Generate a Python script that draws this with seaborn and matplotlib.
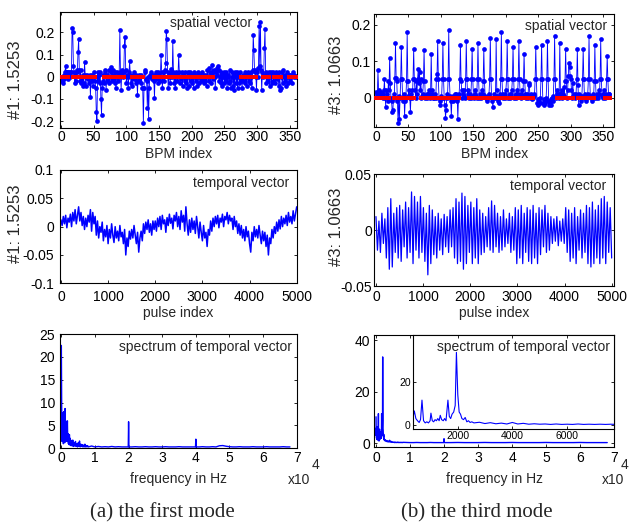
import numpy as np
import matplotlib
matplotlib.use('Agg')
import matplotlib.pyplot as plt
import seaborn as sns

# ---------------- data ----------------
# spatial vectors (360 BPMs)
sv1 = [0.00, -0.02, -0.01, -0.03, -0.01, 0.01, 0.02, 0.05, 0.02, 0.02,
       -0.01, 0.02, 0.01, 0.02, 0.0, 0.02, 0.02, 0.22, 0.20, 0.05,
       0.02, -0.03, 0.01, -0.02, 0.03, 0.02, 0.11, 0.17, 0.03, -0.02,
       0.03, -0.03, 0.0, -0.04, 0.01, -0.03, 0.065, 0.01, -0.04, 0.0,
       0.01, -0.01, 0.0, -0.03, 0.01, -0.09, 0.0, -0.02, 0.01, -0.04,
       0.02, 0.00, -0.02, -0.05, -0.16, -0.20, 0.02, -0.02, 0.01, -0.03,
       0.02, -0.10, -0.17, -0.05, -0.02, 0.01, -0.03, 0.02, 0.03, -0.06,
       0.0, 0.01, -0.02, 0.03, -0.03, 0.0, 0.045, 0.02, -0.02, 0.03,
       -0.01, 0.01, -0.03, 0.02, -0.05, 0.0, 0.02, -0.02, 0.0, 0.01,
       0.21, 0.02, -0.06, 0.03, 0.01, 0.0, 0.02, 0.14, 0.18, 0.03,
       -0.03, 0.01, 0.0, -0.05, 0.02, 0.07, 0.01, -0.03, 0.0, -0.04,
       0.01, -0.01, 0.02, 0.0, -0.03, 0.01, -0.02, -0.08, 0.0, 0.01,
       -0.02, 0.0, -0.03, 0.01, -0.05, -0.05, -0.21, -0.05, 0.02, 0.03,
       -0.01, -0.02, -0.14, 0.0, -0.19, -0.05, 0.01, 0.0, 0.02, -0.01,
       0.01, 0.0, -0.02, -0.095, 0.01, 0.02, -0.01, 0.0, 0.02, -0.03,
       0.01, -0.02, 0.0, 0.10, 0.02, -0.05, 0.0, 0.02, -0.02, 0.03,
       0.06, 0.205, 0.17, 0.02, -0.05, 0.01, 0.0, -0.03, 0.02, 0.035,
       0.0, 0.16, 0.02, -0.03, 0.01, -0.05, 0.02, 0.0, -0.02, 0.01,
       0.10, 0.02, -0.03, 0.0, -0.01, 0.02, -0.04, 0.01, 0.0, -0.02,
       0.02, -0.03, 0.0, -0.05, 0.01, 0.02, -0.04, 0.0, 0.02, -0.02,
       0.01, -0.03, 0.0, -0.05, 0.02, 0.0, -0.02, 0.01, -0.04, 0.0,
       0.02, -0.03, 0.01, 0.0, -0.02, 0.02, -0.01, 0.0, -0.03, 0.01,
       0.0, -0.02, 0.01, -0.04, 0.03, 0.0, -0.02, 0.04, 0.02, -0.03,
       0.01, 0.055, 0.02, -0.01, 0.03, 0.0, -0.05, 0.02, 0.04, 0.01,
       0.05, 0.03, -0.02, 0.0, 0.02, -0.03, 0.01, -0.04, 0.0, 0.02,
       -0.03, 0.01, -0.02, 0.02, -0.05, 0.0, 0.01, -0.03, 0.03, -0.02,
       -0.05, 0.0, 0.02, -0.04, 0.01, -0.06, 0.02, 0.0, -0.03, 0.02,
       -0.05, 0.01, 0.0, -0.03, 0.02, -0.02, 0.0, -0.05, 0.01, -0.02,
       0.0, 0.02, -0.03, 0.01, -0.04, 0.0, 0.02, -0.02, 0.01, -0.03,
       0.02, 0.0, -0.05, 0.03, 0.19, 0.12, 0.03, 0.02, 0.0, -0.06,
       0.02, 0.0, 0.04, 0.23, 0.05, 0.245, 0.03, -0.06, 0.02, 0.0,
       0.01, 0.13, 0.215, 0.02, -0.03, 0.01, -0.02, 0.0, 0.02, -0.04,
       0.0, 0.02, -0.03, 0.01, 0.02, -0.02, 0.0, 0.01, -0.03, 0.02,
       -0.01, 0.0, 0.01, -0.04, 0.02, -0.06, -0.05, 0.0, 0.02, -0.03,
       0.03, 0.0, -0.02, 0.01, -0.04, 0.0, 0.02, -0.03, 0.01, 0.0,
       -0.02, 0.01, 0.0, -0.03, 0.01, 0.02, 0.0, 0.01, 0.005, 0.0]

sv3 = [0.015, 0.01, 0.005, 0.075, 0.02, 0.005, 0.01, 0.015, 0.01, 0.005,
       0.01, 0.0, 0.02, 0.05, 0.0, -0.025, 0.02, 0.01, -0.01, 0.045,
       0.02, 0.11, 0.04, 0.0, -0.01, -0.04, -0.035, 0.01, 0.0, 0.055,
       0.15, 0.055, 0.045, -0.01, -0.07, 0.005, -0.06, 0.0, 0.05, 0.14,
       0.05, 0.0, -0.01, 0.01, -0.05, -0.01, 0.0, 0.045, 0.18, 0.045,
       0.005, 0.02, 0.0, -0.04, 0.01, 0.02, 0.0, 0.05, 0.135, 0.05,
       0.02, 0.0, 0.045, 0.01, 0.05, 0.08, 0.04, 0.07, 0.02, 0.05,
       0.0, 0.005, 0.01, 0.045, 0.13, 0.045, 0.0, 0.005, 0.01, 0.0,
       0.01, 0.02, 0.005, 0.0, 0.01, 0.12, 0.02, 0.0, 0.01, 0.005,
       0.0, 0.01, 0.0, 0.05, 0.065, 0.155, 0.05, 0.0, -0.01, -0.02,
       0.005, 0.0, 0.05, 0.15, 0.05, 0.0, -0.02, -0.055, -0.035, 0.01,
       0.0, 0.05, 0.185, 0.05, 0.005, -0.01, -0.05, 0.0, -0.01, 0.005,
       0.0, 0.01, -0.005, 0.01, -0.01, 0.0, -0.06, 0.0, 0.01, 0.05,
       0.145, 0.045, 0.02, 0.0, 0.01, 0.02, 0.005, 0.0, 0.05, 0.155,
       0.05, 0.01, 0.02, 0.0, 0.005, 0.01, 0.0, 0.05, 0.135, 0.05,
       0.005, 0.0, 0.01, 0.02, 0.005, 0.0, 0.05, 0.15, 0.05, 0.0,
       0.01, 0.005, 0.0, 0.02, 0.01, 0.045, 0.135, 0.045, 0.005, 0.0,
       0.0, -0.01, 0.005, 0.0, 0.01, 0.05, 0.165, 0.05, 0.0, -0.01,
       -0.025, 0.0, 0.01, 0.005, 0.0, 0.16, 0.02, 0.005, -0.01, -0.015,
       0.0, 0.01, 0.05, 0.18, 0.05, 0.0, 0.01, 0.005, 0.0, 0.01,
       0.02, 0.05, 0.155, 0.05, 0.0, 0.005, 0.01, 0.0, 0.01, 0.02,
       0.05, 0.14, 0.05, 0.0, 0.005, 0.01, 0.0, 0.02, 0.01, 0.05,
       0.155, 0.05, 0.005, 0.01, 0.0, 0.02, 0.005, 0.045, 0.12, 0.045,
       0.01, 0.0, 0.005, 0.01, 0.0, 0.04, 0.035, 0.005, 0.0, 0.01,
       -0.005, 0.005, 0.0, 0.01, 0.005, 0.05, 0.14, 0.05, -0.015, -0.005,
       -0.02, -0.01, -0.015, 0.0, 0.05, 0.145, 0.05, -0.015, -0.02, -0.005,
       -0.015, -0.01, 0.0, 0.05, 0.155, 0.05, -0.02, -0.01, -0.015, -0.005,
       -0.02, 0.0, -0.01, 0.005, 0.05, 0.17, 0.05, 0.0, 0.02, 0.01,
       0.005, 0.0, 0.01, 0.15, 0.01, 0.005, 0.02, 0.0, 0.01, 0.03,
       0.005, 0.045, 0.135, 0.045, 0.0, 0.02, 0.06, 0.095, 0.085, 0.06,
       0.05, 0.02, 0.0, 0.04, 0.005, 0.01, 0.0, 0.005, 0.01, 0.05,
       0.135, 0.035, -0.02, 0.01, 0.005, 0.0, -0.01, 0.005, 0.05, 0.135,
       0.05, 0.0, 0.01, -0.01, 0.005, 0.0, 0.01, 0.05, 0.17, 0.05,
       0.005, 0.0, -0.01, 0.005, 0.01, 0.0, 0.045, 0.145, 0.045, 0.0,
       0.01, 0.005, 0.0, 0.02, 0.01, 0.05, 0.16, 0.05, 0.005, 0.0,
       0.01, 0.02, 0.005, 0.0, 0.01, 0.05, 0.115, 0.05, 0.01, 0.01]

# BPM index ranges drawn as red markers on the zero line
red1_ranges = [(0, 11), (18, 34), (40, 52), (66, 96), (108, 126),
               (143, 233), (276, 299), (309, 318), (326, 337), (349, 360)]
red3_ranges = [(0, 20), (27, 37), (40, 58), (70, 101), (107, 128),
               (143, 194), (198, 219), (225, 242), (278, 304), (311, 321),
               (326, 335), (353, 360)]

# temporal vectors
tv1 = [0.012, 0.002, 0.018, 0.005, 0.02, -0.002, 0.015, 0.008, 0.022, 0.0,
       0.025, 0.01, 0.03, 0.005, 0.02, 0.035, 0.01, 0.025, 0.002, 0.018,
       -0.005, 0.015, 0.0, 0.02, 0.008, 0.03, -0.008, 0.025, 0.005, 0.018,
       -0.015, 0.01, -0.02, 0.0, -0.01, 0.008, -0.025, -0.005, -0.018, 0.002,
       -0.03, -0.005, -0.02, 0.005, -0.015, -0.028, 0.0, -0.02, -0.008, -0.025,
       0.002, -0.018, -0.01, -0.03, -0.005, -0.05, -0.02, -0.035, -0.008, -0.022,
       -0.005, -0.02, 0.002, -0.015, -0.03, -0.01, -0.045, -0.02, -0.008, -0.025,
       0.005, -0.012, 0.008, -0.005, 0.012, -0.01, 0.005, -0.015, 0.01, -0.005,
       0.01, -0.008, 0.015, 0.0, 0.018, -0.005, 0.02, 0.005, 0.012, -0.01,
       0.016, 0.002, 0.022, 0.006, 0.015, -0.004, 0.02, 0.01, 0.025, 0.0,
       0.018, -0.005, 0.028, 0.008, 0.02, -0.008, 0.035, 0.005, -0.015, 0.012,
       -0.01, 0.015, -0.005, 0.01, -0.012, 0.018, 0.0, -0.02, 0.008, -0.01,
       -0.025, 0.002, -0.02, -0.01, -0.035, -0.005, -0.015, 0.01, -0.008, 0.015,
       0.0, 0.018, 0.005, 0.02, -0.002, 0.015, 0.008, 0.022, 0.0, 0.018,
       0.012, 0.025, 0.005, 0.02, 0.01, 0.015, -0.005, 0.018, 0.0, 0.01,
       -0.012, 0.005, -0.015, 0.002, -0.02, -0.005, -0.025, 0.0, -0.018, -0.008,
       -0.03, -0.045, -0.01, -0.025, 0.0, -0.018, -0.005, -0.02, 0.002, -0.015,
       -0.03, -0.008, -0.025, -0.01, -0.035, -0.015, -0.05, -0.02, -0.03, -0.005,
       -0.02, 0.0, -0.012, 0.008, -0.008, 0.012, -0.004, 0.018, 0.0, 0.015,
       0.005, 0.02, 0.002, 0.025, 0.008, 0.018, 0.005, 0.028, 0.01, 0.022,
       0.035]

tv3 = [0.012, -0.018, 0.008, -0.02, 0.015, -0.012, 0.01, -0.025, 0.02, -0.035,
       0.028, -0.033, 0.015, -0.02, 0.02, -0.025, 0.022, -0.028, 0.018, -0.015,
       0.025, -0.025, 0.02, -0.02, 0.034, -0.03, 0.03, -0.018, 0.025, -0.025,
       0.03, -0.02, 0.02, -0.028, 0.015, -0.04, 0.022, -0.03, 0.018, -0.022,
       0.012, -0.025, 0.015, -0.018, 0.01, -0.022, 0.014, -0.015, 0.012, -0.02,
       0.018, -0.015, 0.02, -0.025, 0.028, -0.03, 0.025, -0.028, 0.033, -0.035,
       0.03, -0.03, 0.022, -0.02, 0.025, -0.03, 0.02, -0.025, 0.028, -0.03,
       0.018, -0.022, 0.015, -0.02, 0.012, -0.015, 0.02, -0.018, 0.026, -0.02,
       0.022, -0.015, 0.015, -0.02, 0.012, -0.018, 0.018, -0.015, 0.01, -0.012,
       0.015, -0.02, 0.012, -0.018, 0.02, -0.03, 0.018, -0.025, 0.022, -0.03,
       0.015, -0.02, 0.02, -0.028, 0.018, -0.03, 0.022, -0.025, 0.015, -0.03,
       0.02, -0.022, 0.018, -0.015, 0.022, -0.02, 0.015, -0.018, 0.012, -0.012,
       0.01, -0.01, 0.012, -0.014, 0.008, -0.01, 0.01, -0.012, 0.02, -0.02,
       0.018, -0.028, 0.015, -0.025, 0.02, -0.03, 0.012, -0.018, 0.018, -0.025,
       0.015, -0.02, 0.022, -0.03, 0.02, -0.033, 0.025, -0.03, 0.018, -0.025,
       0.022, -0.03, 0.028, -0.025, 0.03, -0.03, 0.025, -0.02, 0.02, -0.025]

# spectra (frequency in Hz, amplitude)
sp1_freq = (list(range(0, 3001, 100)) + list(range(3200, 8001, 200))
            + list(range(9000, 19001, 1000)) + [19900, 20000, 20100]
            + list(range(21000, 39001, 1000)) + [39900, 40000, 40100]
            + list(range(41000, 68001, 1000)))
sp1_amp = ([22.5, 8.5, 1.5, 7.8, 2.0, 6.5, 1.0, 8.0, 2.5, 5.5, 1.2, 8.7, 3.0,
            6.0, 1.5, 4.5, 2.0, 3.5, 6.0, 1.5, 3.2, 1.0, 2.5, 0.8, 3.0, 1.2,
            2.2, 0.6, 1.8, 0.8, 1.5]
           + [0.5, 1.8, 0.4, 1.2, 0.5, 1.5, 0.4, 1.0, 0.3, 1.2, 0.4, 1.6, 0.3,
              0.9, 0.4, 0.8, 0.3, 0.7, 0.3, 0.9, 0.3, 0.6, 0.3, 0.6, 0.3]
           + [0.5, 0.3, 0.4, 0.3, 0.35, 0.3, 0.4, 0.3, 0.35, 0.3, 0.3]
           + [0.3, 5.8, 0.3]
           + [0.3, 0.35, 0.3, 0.3, 0.35, 0.3, 0.3, 0.35, 0.3, 0.3, 0.35, 0.3,
              0.3, 0.3, 0.35, 0.3, 0.3, 0.3, 0.3]
           + [0.3, 2.0, 0.3]
           + [0.3, 0.35, 0.3, 0.3, 0.35, 0.3, 0.55, 0.6, 0.45, 0.35, 0.3, 0.3,
              0.35, 0.3, 0.3, 0.3, 0.35, 0.3, 0.3, 0.3, 0.35, 0.3, 0.3, 0.3,
              0.3, 0.35, 0.3, 0.3])

sp3_freq = ([0, 50, 100, 150, 200, 250, 300, 350, 424, 480, 540, 600, 650,
             703, 760, 820, 880, 940, 1000, 1030, 1080, 1130, 1180, 1230,
             1280, 1330, 1370, 1420, 1480, 1530, 1580, 1650, 1700, 1750,
             1800, 1860, 1915, 1960, 2010, 2060, 2110, 2160, 2220, 2280,
             2340, 2400, 2460, 2520]
            + list(range(2600, 8001, 200)) + list(range(9000, 19001, 1000))
            + [19900, 20000, 20100] + list(range(22000, 68001, 2000)))
sp3_amp = ([10.3, 3.0, 6.0, 2.0, 4.0, 1.5, 3.0, 2.0, 6.5, 3.0, 2.0, 1.2, 2.5,
            11.5, 2.0, 1.0, 1.5, 1.0, 2.0, 5.5, 2.0, 1.5, 2.5, 2.0, 3.0, 2.0,
            4.5, 2.5, 2.0, 3.0, 2.0, 11.5, 4.0, 3.0, 5.0, 6.0, 9.0, 33.5,
            14.0, 6.0, 5.0, 3.0, 2.5, 3.5, 1.5, 2.0, 1.2, 1.5]
           + [1.0, 1.3, 0.7, 1.1, 0.6, 0.9, 0.5, 1.2, 0.5, 0.8, 0.4, 0.6, 0.4,
              0.5, 0.3, 0.5, 0.3, 0.4, 0.3, 0.5, 0.3, 0.4, 0.3, 0.4, 0.3, 0.4,
              0.3, 0.4]
           + [0.35, 0.3, 0.3, 0.35, 0.3, 0.3, 0.3, 0.35, 0.3, 0.3, 0.3]
           + [0.3, 1.8, 0.3]
           + [0.3, 0.35, 0.3, 0.3, 0.3, 0.35, 0.3, 0.3, 0.3, 0.35, 0.3, 0.3,
              0.3, 0.3, 0.35, 0.3, 0.3, 0.3, 0.3, 0.35, 0.3, 0.3, 0.3, 0.3])

ylabel1 = '#1: 1.5253'
ylabel3 = '#3: 1.0663'

# ---------------- style ----------------
sns.set_style('ticks', {'xtick.direction': 'in', 'ytick.direction': 'in'})
plt.rcParams['font.family'] = ['Liberation Sans', 'DejaVu Sans']
plt.rcParams['axes.unicode_minus'] = False
plt.rcParams['xtick.top'] = True
plt.rcParams['ytick.right'] = True
plt.rcParams['axes.linewidth'] = 0.8
plt.rcParams['axes.edgecolor'] = 'black'

FS = 10
fig = plt.figure(figsize=(6.29, 5.25), dpi=100)


def frame(ax, xpad, ypad):
    ax.tick_params(axis='both', which='both', direction='in', length=2.5,
                   width=0.6, labelsize=FS, colors='black',
                   top=True, right=True)
    ax.tick_params(axis='x', pad=xpad)
    ax.tick_params(axis='y', pad=ypad)
    for s in ax.spines.values():
        s.set_visible(True)
        s.set_color('black')
        s.set_linewidth(0.8)


def spatial(ax, values, ranges):
    idx = np.arange(len(values))
    sns.lineplot(x=idx, y=values, ax=ax, color='blue', linewidth=0.6,
                 marker='o', markersize=3.4, markeredgewidth=0,
                 estimator=None)
    red_idx = [i for a, b in ranges for i in range(a, b + 1)]
    sns.scatterplot(x=red_idx, y=[0.0] * len(red_idx), ax=ax, color='red',
                    marker='s', s=6, linewidth=0, zorder=5)


# ---- top left: spatial vector, mode 1
ax1 = fig.add_axes([0.0954, 0.7568, 0.3763, 0.2198])
spatial(ax1, sv1, red1_ranges)
ax1.set_xlim(-1.5, 360.5)
ax1.set_ylim(-0.229, 0.29)
ax1.set_xticks(range(0, 351, 50))
ax1.set_yticks([-0.2, -0.1, 0, 0.1, 0.2])
ax1.set_yticklabels(['-0.2', '-0.1', '0', '0.1', '0.2'])
frame(ax1, 1.5, 4.0)
ax1.set_xlabel('BPM index', fontsize=FS, labelpad=2)
ax1.set_ylabel(ylabel1, fontsize=12)
ax1.yaxis.set_label_coords(-0.158, 0.413)
ax1.text(0.637, 0.905, 'spatial vector', transform=ax1.transAxes,
         ha='center', va='center', fontsize=FS)

# ---- top right: spatial vector, mode 3
ax2 = fig.add_axes([0.5951, 0.7587, 0.3811, 0.2147])
spatial(ax2, sv3, red3_ranges)
ax2.set_xlim(-2.6, 366.5)
ax2.set_ylim(-0.08, 0.23)
ax2.set_xticks(range(0, 351, 50))
ax2.set_yticks([0, 0.1, 0.2])
ax2.set_yticklabels(['0', '0.1', '0.2'])
frame(ax2, 2.2, 2.5)
ax2.set_xlabel('BPM index', fontsize=FS, labelpad=2)
ax2.set_ylabel(ylabel3, fontsize=12)
ax2.yaxis.set_label_coords(-0.126, 0.459)
ax2.text(0.971, 0.894, 'spatial vector', transform=ax2.transAxes,
         ha='right', va='center', fontsize=FS)

# ---- middle left: temporal vector, mode 1
ax3 = fig.add_axes([0.0954, 0.4604, 0.3763, 0.2158])
sns.lineplot(x=np.linspace(0, 5000, len(tv1)), y=tv1, ax=ax3, color='blue',
             linewidth=1.1, estimator=None)
ax3.set_xlim(-20, 5000)
ax3.set_ylim(-0.1, 0.1)
ax3.set_xticks(range(0, 5001, 1000))
ax3.set_yticks([-0.1, -0.05, 0, 0.05, 0.1])
ax3.set_yticklabels(['-0.1', '-0.05', '0', '0.05', '0.1'])
frame(ax3, 4.5, 4.5)
ax3.set_xlabel('pulse index', fontsize=FS, labelpad=2)
ax3.set_ylabel(ylabel1, fontsize=12)
ax3.yaxis.set_label_coords(-0.158, 0.528)
ax3.text(0.970, 0.885, 'temporal vector', transform=ax3.transAxes,
         ha='right', va='center', fontsize=FS)

# ---- middle right: temporal vector, mode 3
ax4 = fig.add_axes([0.5951, 0.4552, 0.3811, 0.2133])
sns.lineplot(x=np.linspace(0, 5000, len(tv3)), y=tv3, ax=ax4, color='blue',
             linewidth=0.9, estimator=None)
ax4.set_xlim(-35, 5050)
ax4.set_ylim(-0.05, 0.05)
ax4.set_xticks(range(0, 5001, 1000))
ax4.set_yticks([-0.05, 0, 0.05])
ax4.set_yticklabels(['-0.05', '0', '0.05'])
frame(ax4, 2.6, 1.8)
ax4.set_xlabel('pulse index', fontsize=FS, labelpad=2)
ax4.set_ylabel(ylabel3, fontsize=12)
ax4.yaxis.set_label_coords(-0.126, 0.529)
ax4.text(0.967, 0.893, 'temporal vector', transform=ax4.transAxes,
         ha='right', va='center', fontsize=FS)

# ---- bottom left: spectrum, mode 1
ax5 = fig.add_axes([0.0954, 0.1461, 0.3763, 0.2177])
sns.lineplot(x=sp1_freq, y=sp1_amp, ax=ax5, color='blue', linewidth=1.0,
             estimator=None)
ax5.set_xlim(-400, 70000)
ax5.set_ylim(0, 25)
ax5.set_xticks(range(0, 70001, 10000))
ax5.set_xticklabels([str(k) for k in range(8)])
ax5.set_yticks(range(0, 26, 5))
frame(ax5, 2.2, 3.5)
ax5.set_xlabel('frequency in Hz', fontsize=FS, labelpad=5)
ax5.text(0.979, 0.886, 'spectrum of temporal vector', transform=ax5.transAxes,
         ha='right', va='center', fontsize=FS)

# ---- bottom right: spectrum, mode 3, with zoomed inset
ax6 = fig.add_axes([0.5951, 0.1491, 0.3811, 0.2128])
sns.lineplot(x=sp3_freq, y=sp3_amp, ax=ax6, color='blue', linewidth=1.0,
             estimator=None)
ax6.set_xlim(-500, 70000)
ax6.set_ylim(-1.3, 42)
ax6.set_xticks(range(0, 70001, 10000))
ax6.set_xticklabels([str(k) for k in range(8)])
ax6.set_yticks([0, 20, 40])
frame(ax6, 3.3, 3.0)
ax6.set_xlabel('frequency in Hz', fontsize=FS, labelpad=5)

axi = fig.add_axes([0.6561, 0.1829, 0.3200, 0.1790])
axi.set_facecolor('white')
sns.lineplot(x=sp3_freq, y=sp3_amp, ax=axi, color='blue', linewidth=0.8,
             estimator=None)
axi.set_xlim(364, 7710)
axi.set_ylim(-1.8, 41.5)
axi.set_xticks([2000, 4000, 6000])
axi.set_yticks([0, 20])
frame(axi, 1.5, 1.5)
axi.tick_params(labelsize=7.5)
axi.text(0.980, 0.872, 'spectrum of temporal vector', transform=axi.transAxes,
         ha='right', va='center', fontsize=FS)

# axis multipliers
fig.text(288 / 629, 1 - 480 / 525, 'x10', fontsize=FS, va='center', ha='left')
fig.text(311.5 / 629, 1 - 465 / 525, '4', fontsize=FS, va='center', ha='left')
fig.text(602 / 629, 1 - 480 / 525, 'x10', fontsize=FS, va='center', ha='left')
fig.text(621 / 629, 1 - 465 / 525, '4', fontsize=FS, va='center', ha='left')

# captions
fig.text(162 / 629, 1 - 513 / 525, '(a) the first mode', fontsize=15,
         family='Liberation Serif', ha='center', va='center')
fig.text(477 / 629, 1 - 513 / 525, '(b) the third mode', fontsize=15,
         family='Liberation Serif', ha='center', va='center')

fig.savefig('out.png', dpi=100)
